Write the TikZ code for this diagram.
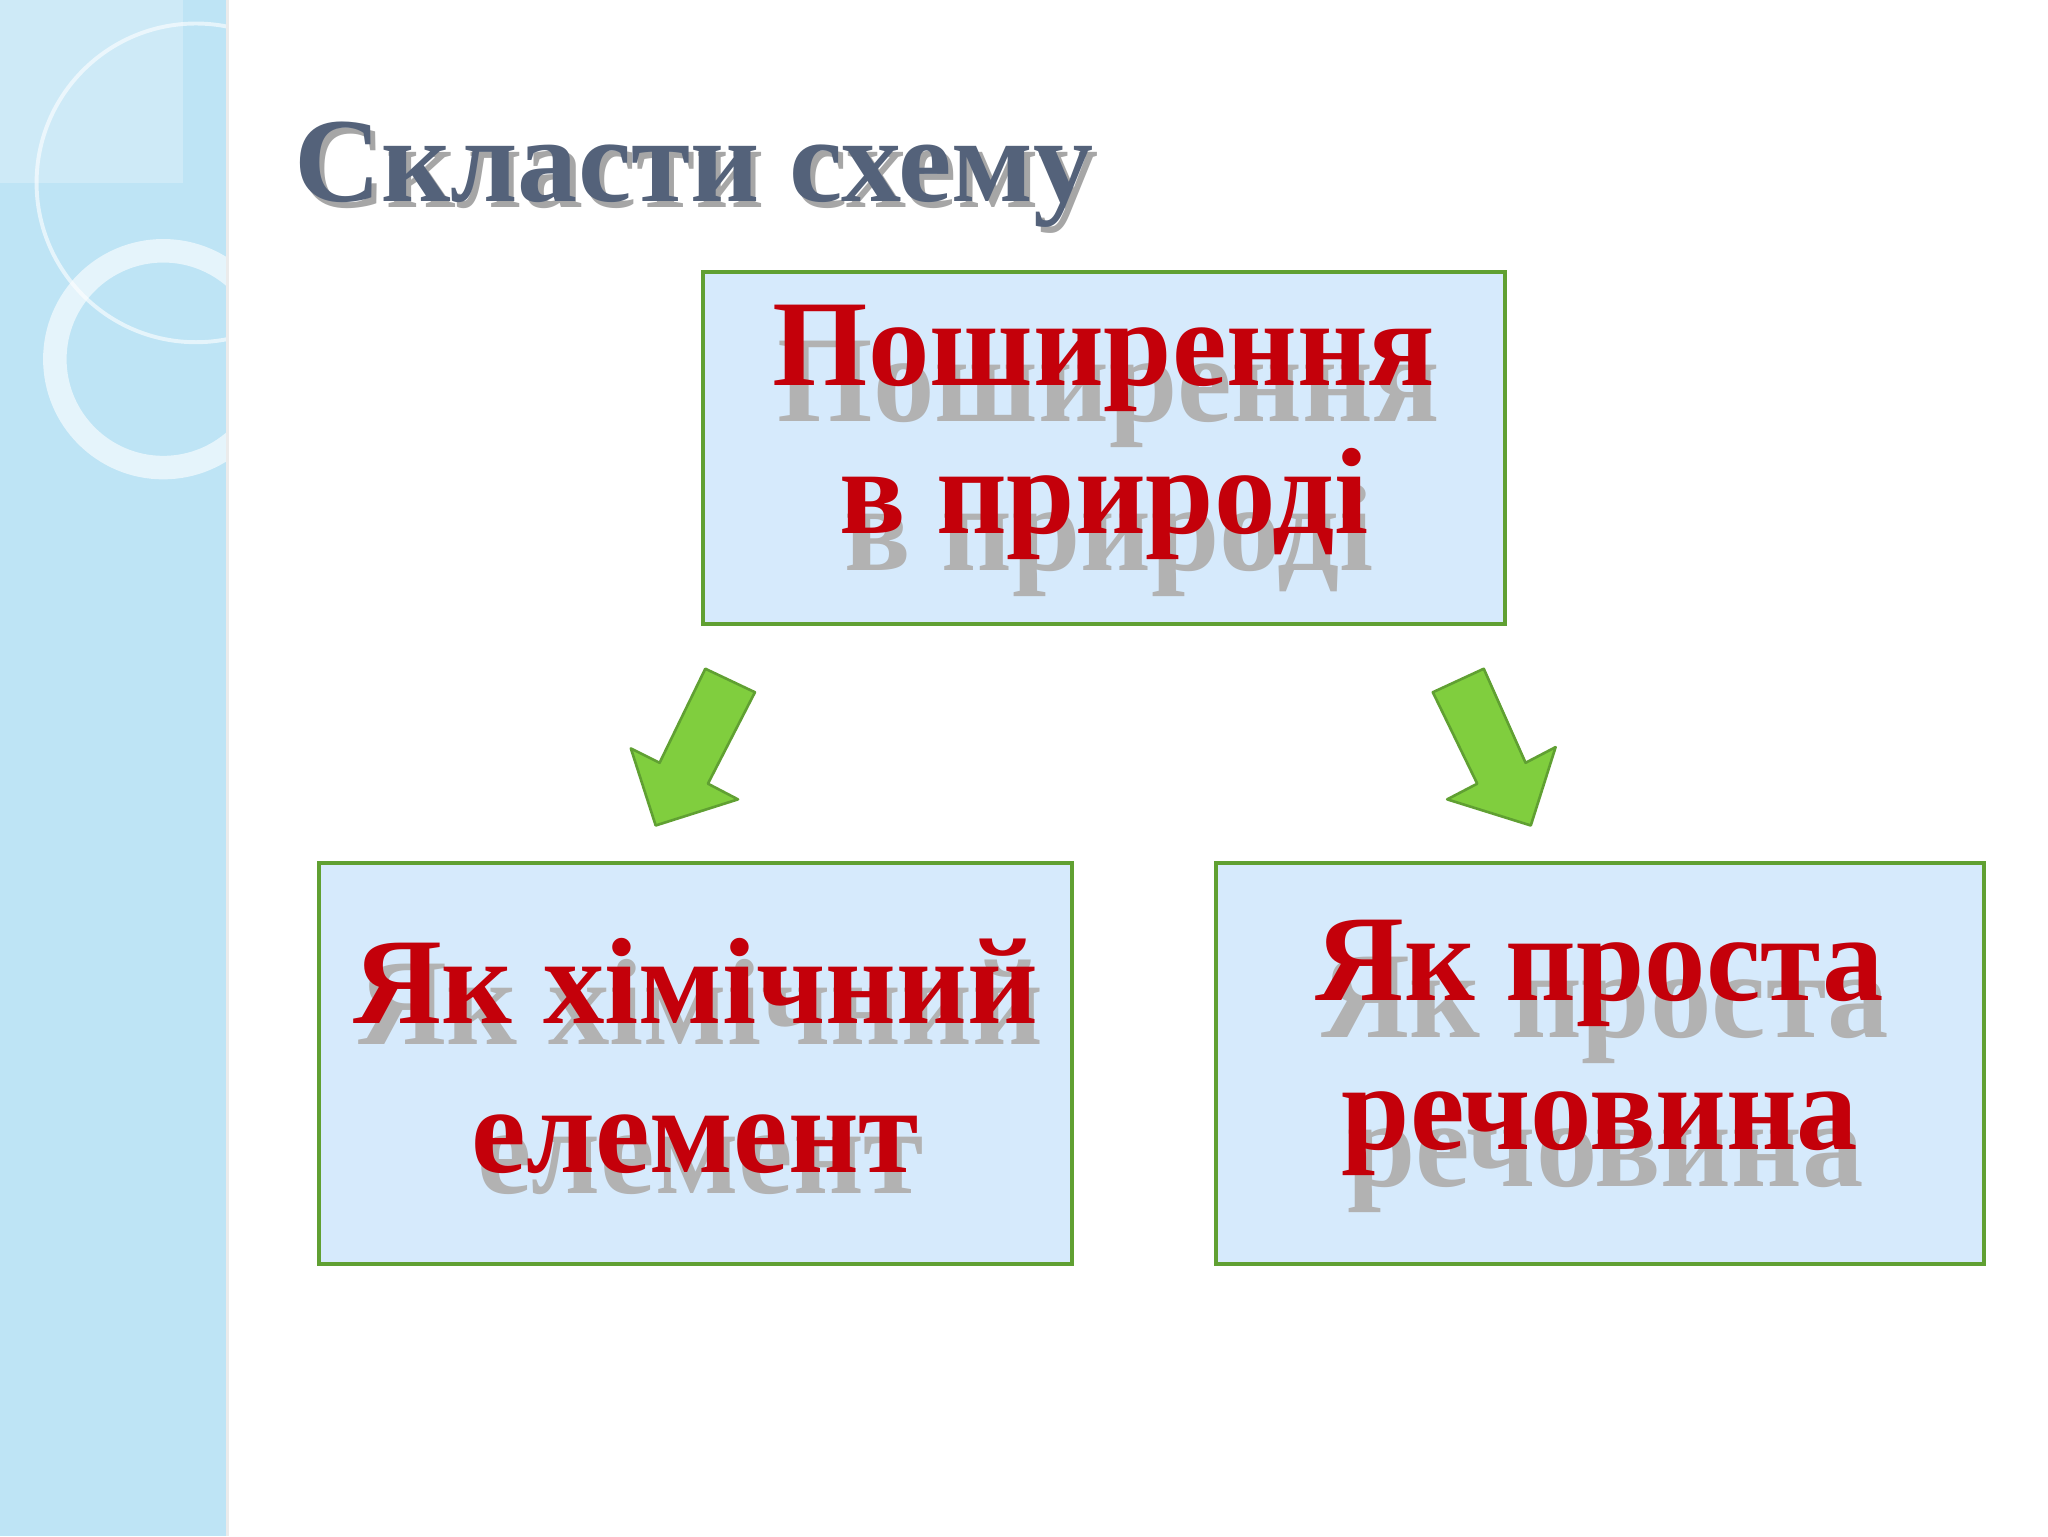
\documentclass[tikz,border=0pt]{standalone}
\usepackage{fontspec}
\setmainfont{Liberation Serif}
\definecolor{boxfill}{RGB}{214,234,252}
\definecolor{boxline}{RGB}{96,160,50}
\definecolor{strip}{RGB}{190,228,245}
\definecolor{titlec}{RGB}{84,98,122}
\definecolor{arrfill}{RGB}{128,206,62}
\definecolor{arrline}{RGB}{96,160,50}
\definecolor{redc}{RGB}{196,0,10}
\begin{document}
\begin{tikzpicture}[x=1pt,y=-1pt,
  box/.style={draw=boxline,line width=3pt,fill=boxfill,minimum width=#1,minimum height=307,inner sep=0pt},
  redtxt/.style={text=redc,font=\bfseries\fontsize{94}{114}\selectfont,align=center},
  shd/.style={text=black!30,font=\bfseries\fontsize{94}{114}\selectfont,align=center},
  arr/.style={fill=arrfill,draw=arrline,line width=2pt,line join=round}]
\useasboundingbox (0,0) rectangle (1568,1176);
\fill[white] (0,0) rectangle (1568,1176);
\fill[strip] (0,0) rectangle (173,1176);
\begin{scope}
\clip (0,0) rectangle (173,1176);
\draw[white,opacity=0.6,line width=3pt] (150,140) circle (122);
\draw[white,opacity=0.6,line width=18pt] (125,275) circle (83);
\fill[white,opacity=0.25] (0,0) rectangle (140,140);
\end{scope}
\draw[black!8,line width=2pt] (174,0) -- (174,1176);
% title
\node[text=black!35,font=\bfseries\fontsize{92}{100}\selectfont,anchor=west] at (226,138) {Скласти схему};
\node[text=titlec,font=\bfseries\fontsize{92}{100}\selectfont,anchor=west] (title) at (222,134) {Скласти схему};
% boxes
\node[box=614,minimum height=270] (top) at (845,343) {};
\node[box=577] (left) at (532.5,814.5) {};
\node[box=588] (right) at (1225,814.5) {};
\node[shd] at ([shift={(4,16)}]top.center) {Поширення\\в природі};
\node[redtxt] (t1) at ([yshift=12]top.center) {Поширення\\в природі};
\node[shd] at ([shift={(4,10)}]left.center) {Як хімічний\\елемент};
\node[redtxt] (t2) at ([yshift=6]left.center) {Як хімічний\\елемент};
\node[shd] at ([shift={(4,16)}]right.center) {Як проста\\речовина};
\node[redtxt] (t3) at ([yshift=12]right.center) {Як проста\\речовина};
% arrows
\draw[arr] (540,512) -- (578,530) -- (542,600) -- (565,612) -- (502,632) -- (483,573) -- (505,584) -- cycle;
\draw[arr] (1136,512) -- (1097,530) -- (1131,600) -- (1108,612) -- (1172,632) -- (1191,572) -- (1168,584) -- cycle;
\end{tikzpicture}
\end{document}
